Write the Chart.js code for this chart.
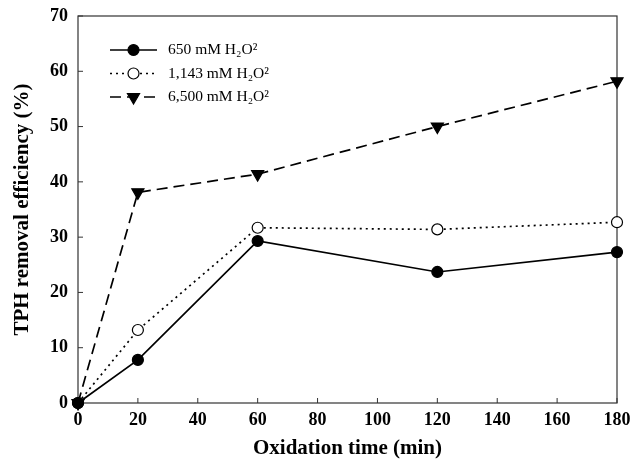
<!DOCTYPE html>
<html>
<head>
<meta charset="utf-8">
<script src="https://cdn.jsdelivr.net/npm/chart.js@4"></script>
<style>
  html, body { margin: 0; padding: 0; background: #fff; }
  #wrap { width: 643px; height: 459px; }
</style>
</head>
<body>
<div id="wrap"><canvas id="c"></canvas></div>
<script>
// ---- Data ----
const times = [0, 20, 60, 120, 180];
const low = [0, 7.8, 29.3, 23.7, 27.3];     // 650 mM
const mid = [0, 13.2, 31.7, 31.4, 32.7];    // 1,143 mM
const high = [0, 38.1, 41.4, 50.0, 58.2];   // 6,500 mM
const seriesNames = ["650 mM H\u2082O\u00B2", "1,143 mM H\u2082O\u00B2", "6,500 mM H\u2082O\u00B2"];
const xTicks = [0, 20, 40, 60, 80, 100, 120, 140, 160, 180];
const yTicks = [0, 10, 20, 30, 40, 50, 60, 70];

const SERIF = "'Liberation Serif', 'Times New Roman', serif";
const pts = (vals) => times.map((t, i) => ({ x: t, y: vals[i] }));

const styles = [
  { dash: [], pointStyle: "circle", fill: "#000", radius: 5.5, rotation: 0 },
  { dash: [2, 4], pointStyle: "circle", fill: "#fff", radius: 5.5, rotation: 0 },
  { dash: [11, 6], pointStyle: "triangle", fill: "#000", radius: 7, rotation: 180 },
];

const datasets = [low, mid, high].map((vals, i) => ({
  label: seriesNames[i], data: pts(vals),
  borderColor: "#000", borderWidth: 1.7, borderDash: styles[i].dash,
  pointStyle: styles[i].pointStyle, pointRotation: styles[i].rotation,
  pointRadius: styles[i].radius, pointBackgroundColor: styles[i].fill,
  pointBorderColor: "#000", pointBorderWidth: 1.2, clip: false, tension: 0,
}));

// box + inward ticks
const frame = {
  id: "frame",
  beforeDatasetsDraw(chart) {
    const { ctx, chartArea: a, scales } = chart;
    ctx.save();
    ctx.strokeStyle = "#333"; ctx.lineWidth = 1.2;
    ctx.strokeRect(a.left, a.top, a.right - a.left, a.bottom - a.top);
    ctx.lineWidth = 1;
    ctx.beginPath();
    xTicks.forEach((v) => { const x = scales.x.getPixelForValue(v); ctx.moveTo(x, a.bottom); ctx.lineTo(x, a.bottom - 5); });
    yTicks.forEach((v) => { const y = scales.y.getPixelForValue(v); ctx.moveTo(a.left, y); ctx.lineTo(a.left + 5, y); });
    ctx.stroke();
    ctx.restore();
  },
};

// legend inside plot, top-left
const innerLegend = {
  id: "innerLegend",
  afterDatasetsDraw(chart) {
    const { ctx, chartArea: a } = chart;
    ctx.save();
    chart.data.datasets.forEach((ds, i) => {
      const y = a.top + 34 + i * 23.5;
      const x0 = a.left + 32, x1 = a.left + 79, xm = (x0 + x1) / 2;
      ctx.strokeStyle = "#000"; ctx.lineWidth = 1.7; ctx.setLineDash(ds.borderDash);
      ctx.beginPath(); ctx.moveTo(x0, y); ctx.lineTo(x1, y); ctx.stroke();
      ctx.setLineDash([]);
      ctx.fillStyle = ds.pointBackgroundColor; ctx.lineWidth = 1.2;
      Chart.helpers.drawPoint(ctx, { pointStyle: ds.pointStyle, rotation: ds.pointRotation, radius: ds.pointRadius, borderWidth: 1.2 }, xm, y);
      ctx.fillStyle = "#000"; ctx.font = "15.5px " + SERIF; ctx.textBaseline = "middle";
      ctx.fillText(ds.label, a.left + 90, y);
    });
    ctx.restore();
  },
};

new Chart(document.getElementById("c"), {
  type: "line",
  data: { datasets },
  plugins: [frame, innerLegend],
  options: {
    responsive: true, maintainAspectRatio: false, animation: false,
    layout: { padding: { top: 16, right: 26, left: 0, bottom: 0 } },
    plugins: { legend: { display: false }, tooltip: { enabled: false } },
    scales: {
      x: {
        type: "linear", min: 0, max: 180,
        afterBuildTicks: (s) => { s.ticks = xTicks.map((v) => ({ value: v })); },
        grid: { display: false, drawTicks: false }, border: { display: false },
        ticks: { color: "#000", font: { family: SERIF, size: 18, weight: "bold" }, padding: 7, maxRotation: 0 },
        title: { display: true, text: "Oxidation time (min)", color: "#000", font: { family: SERIF, size: 21, weight: "bold", lineHeight: 1 }, padding: { top: 0, bottom: 0 } },
        afterFit: (s) => { s.height = 56; s.paddingLeft = 0; s.paddingRight = 0; },
      },
      y: {
        min: 0, max: 70,
        afterBuildTicks: (s) => { s.ticks = yTicks.map((v) => ({ value: v })); },
        grid: { display: false, drawTicks: false }, border: { display: false },
        ticks: { color: "#000", font: { family: SERIF, size: 18, weight: "bold" }, padding: 10 },
        title: { display: true, text: "TPH removal efficiency (%)", color: "#000", font: { family: SERIF, size: 21, weight: "bold" }, padding: { top: 10, bottom: 0 } },
        afterFit: (s) => { s.width = 78; s.paddingTop = 0; s.paddingBottom = 0; },
      },
    },
  },
});
</script>
</body>
</html>
